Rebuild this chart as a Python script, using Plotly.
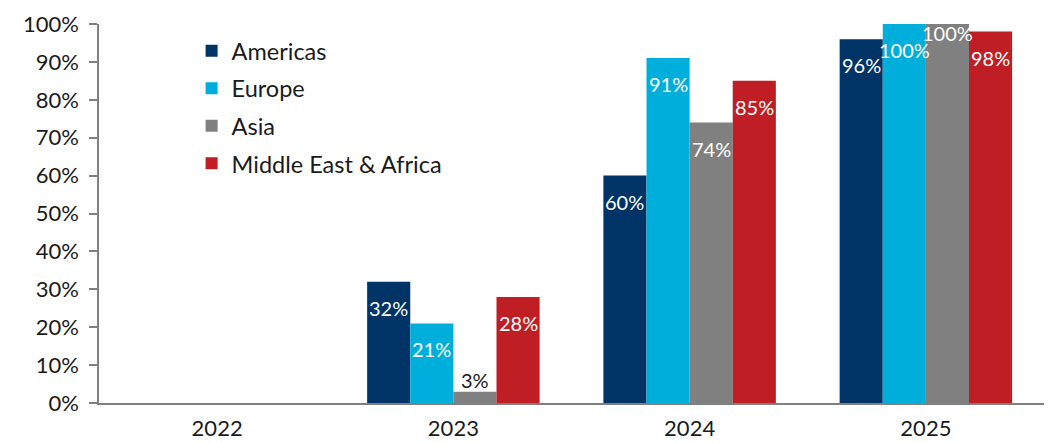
import plotly.graph_objects as go

years = ["2022", "2023", "2024", "2025"]
series_names = ["Americas", "Europe", "Asia", "Middle East & Africa"]
americas = [None, 32, 60, 96]
europe = [None, 21, 91, 100]
asia = [None, 3, 74, 100]
mea = [None, 28, 85, 98]
y_ticks = [0, 10, 20, 30, 40, 50, 60, 70, 80, 90, 100]
y_tick_labels = [f"{v}%" for v in y_ticks]

colors = ["#003366", "#00AEDB", "#808080", "#BE1E24"]
all_series = [americas, europe, asia, mea]

W, H = 1052, 443
ML, MR, MT, MB = 99, 8, 24, 40
BARGAP = 0.27
FONT = "Lato, 'Open Sans', sans-serif"

fig = go.Figure()
for i, (name, vals) in enumerate(zip(series_names, all_series)):
    fig.add_trace(go.Bar(
        x=years, y=vals, name=name, marker_color=colors[i],
        marker_line_width=0, legendgroup=name,
    ))

plot_w = W - ML - MR
cat_w = plot_w / len(years)
bar_px = cat_w * (1 - BARGAP) / len(series_names)

annotations = []
for i, vals in enumerate(all_series):
    for j, v in enumerate(vals):
        if v is None:
            continue
        xshift = (i - (len(series_names) - 1) / 2) * bar_px
        if v < 8:
            yshift, col = 12, "#1a1a1a"
        elif i == 2 and v == 100:
            yshift, col = -9, "white"
        else:
            yshift, col = -26, "white"
        annotations.append(dict(
            x=j, y=v, xref="x", yref="y", text=f"{v}%",
            showarrow=False, xshift=xshift, yshift=yshift,
            font=dict(family=FONT, size=20, color=col),
            xanchor="center", yanchor="middle",
        ))

fig.update_layout(
    width=W, height=H,
    margin=dict(l=ML, r=MR, t=MT, b=MB),
    plot_bgcolor="white", paper_bgcolor="white",
    barmode="group", bargap=BARGAP, bargroupgap=0,
    font=dict(family=FONT, size=21, color="#1a1a1a"),
    annotations=annotations,
    legend=dict(
        x=0.098, y=0.987, xanchor="left", yanchor="top",
        font=dict(family=FONT, size=23.5, color="#1a1a1a"),
        bgcolor="rgba(0,0,0,0)", traceorder="grouped", tracegroupgap=4,
        itemclick=False,
    ),
    showlegend=True,
)
fig.update_xaxes(
    type="category", automargin=False, range=[-0.5, len(years) - 0.5],
    showgrid=False, showline=True, linecolor="#808080", linewidth=2,
    ticks="", tickfont=dict(family=FONT, size=22, color="#1a1a1a"),
    ticklabelstandoff=5,
)
fig.update_yaxes(
    range=[0, 100], tickvals=y_ticks, ticktext=y_tick_labels, automargin=False,
    showgrid=False, showline=True, linecolor="#808080", linewidth=1.5,
    ticks="outside", ticklen=8, tickcolor="#808080", tickwidth=1.5,
    tickfont=dict(family=FONT, size=22, color="#1a1a1a"),
    ticklabelstandoff=6, zeroline=False,
)

fig.write_html("out.html")
